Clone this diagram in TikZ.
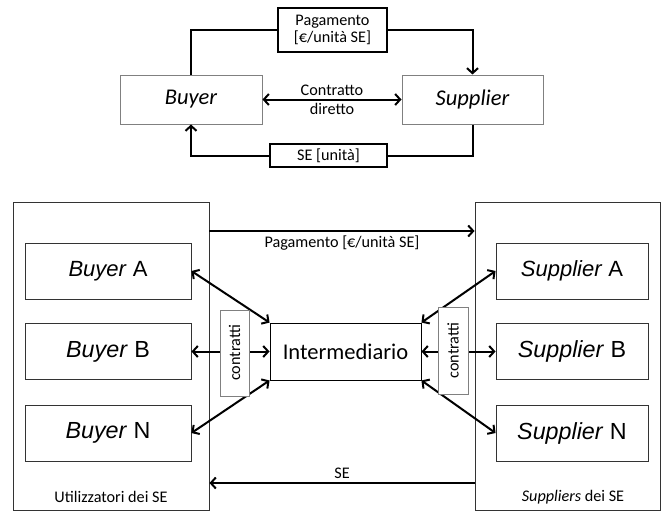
\documentclass[tikz,border=0pt]{standalone}
\usepackage{fontspec}
\setmainfont{Carlito}
\newfontfamily\arialfont{Liberation Sans}
\usetikzlibrary{arrows.meta}
\tikzset{
  flow/.style={line width=2pt},
  thinbox/.style={draw=black!80,line width=0.9pt,inner sep=0pt},
  graybox/.style={draw=black!50,line width=1pt,inner sep=0pt},
  thickbox/.style={draw,line width=2pt,inner sep=0pt,align=center},
  lab/.style={font=\fontsize{16.2}{16.5}\selectfont,inner sep=1.5pt},
  big/.style={font=\fontsize{22.5}{24}\selectfont},
  agent/.style={thinbox,font=\arialfont\fontsize{#1}{24}\selectfont,minimum height=56}
}
\begin{document}
\begin{tikzpicture}[x=1pt,y=-1pt,>={Straight Barb[length=5pt,width=11pt]}]
\useasboundingbox (0,0) rectangle (661,511);

% contratto diretto
\node[graybox,big,minimum width=142,minimum height=49] (buyer) at (191,99.5) {\itshape Buyer};
\node[graybox,big,minimum width=141,minimum height=49] (supplier) at (472.5,99.5) {\itshape Supplier};
\node[thickbox,lab,minimum width=109,minimum height=44] (pay) at (332.5,30) {Pagamento\\{}[€/unità SE]};
\node[thickbox,lab,minimum width=117,minimum height=23] (se) at (328.5,155.5) {SE [unità]};

\draw[flow] (buyer.north) |- (pay.west);
\draw[flow,->] (pay.east) -| (supplier.north);
\draw[flow] (supplier.south) |- (se.east);
\draw[flow,->] (se.west) -| (buyer.south);
\draw[flow,<->] (buyer.east) -- node[lab,above=1.5pt]{Contratto} node[lab,below=1.5pt]{diretto} (supplier.west);

% con intermediario
\node[thinbox,minimum width=196,minimum height=308] (users) at (111,356) {};
\node[thinbox,minimum width=185,minimum height=308] (sups) at (567.5,356) {};
\node[lab] (ulab) at (111,497) {Utilizzatori dei SE};
\node[lab] (slab) at (573,497) {\textit{Suppliers} dei SE};

\foreach \n/\y/\s in {A/271/22,B/351.5/23.3,N/433/23.3}{
    \node[agent=\s,minimum width=166] (buyer\n) at (108,\y) {\textit{Buyer} \n};
    \node[agent=\s,minimum width=152] (supplier\n) at (572,\y) {\textit{Supplier} \n};
}
\node[draw,line width=0.9pt,big,minimum width=151,minimum height=57] (inter) at (345.5,351.5) {Intermediario};

\draw[flow,<->] (buyerA.east) -- (inter.north west);
\draw[flow,<->] (buyerB.east) -- (inter.west);
\draw[flow,<->] (buyerN.east) -- (inter.south west);
\draw[flow,<->] (supplierA.west) -- (inter.north east);
\draw[flow,<->] (supplierB.west) -- (inter.east);
\draw[flow,<->] (supplierN.west) -- (inter.south east);

\node[graybox,fill=white,lab,rotate=90,minimum width=86,minimum height=29] (contrL) at (234.5,353) {contratti};
\node[graybox,fill=white,lab,rotate=90,minimum width=87,minimum height=30] (contrR) at (453,350.5) {contratti};

\coordinate (payrow) at (0,231);
\coordinate (serow) at (0,483);
\draw[flow,->] (users.east |- payrow) -- node[lab,below=2pt]{Pagamento [€/unità SE]} (sups.west |- payrow);
\draw[flow,->] (sups.west |- serow) -- node[lab,above=2pt]{SE} (users.east |- serow);
\end{tikzpicture}
\end{document}
